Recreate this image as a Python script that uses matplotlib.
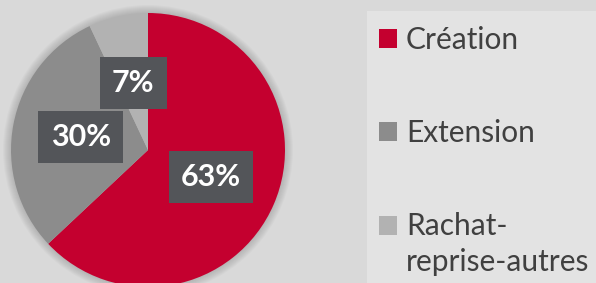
import matplotlib
matplotlib.use('Agg')
import matplotlib.pyplot as plt
from matplotlib.patches import Circle, Rectangle

plt.rcParams['font.family'] = ['Lato', 'DejaVu Sans']

categories = ['Création', 'Extension', 'Rachat-\nreprise-autres']
shares = [63, 30, 7]
colors = ['#c4002f', '#8c8c8c', '#b2b2b2']

fig = plt.figure(figsize=(5.96, 2.83), dpi=100, facecolor='#d9d9d9')
ax = fig.add_axes([0, 0, 1, 1])

cx, cy, r = 148, 133, 137

# soft halo behind the pie
for k in range(8, 0, -1):
    ax.add_patch(Circle((cx, cy), r + k, color='black', alpha=0.018, lw=0, zorder=0))

# legend panel
ax.add_patch(Rectangle((367, 0), 229, 272, color='#e3e3e3', lw=0, zorder=0))

wedges, _, autotexts = ax.pie(
    shares, colors=colors, startangle=90, counterclock=False,
    center=(cx, cy), radius=r, autopct='%d%%', pctdistance=0.5,
    wedgeprops=dict(linewidth=0), frame=True)
ax.set_xlim(0, 596)
ax.set_ylim(0, 283)
ax.set_aspect('equal')
ax.axis('off')

for t in autotexts:
    t.set_color('white')
    t.set_fontsize(22)
    t.set_fontweight('bold')
    t.set_bbox(dict(boxstyle='square,pad=0.4', facecolor='#535559', edgecolor='none'))

leg = ax.legend(wedges, categories, loc='upper left', bbox_to_anchor=(379 / 596, 1 - 26 / 283),
                frameon=False, fontsize=21.5, handlelength=0.6, handleheight=0.6,
                handletextpad=0.3, labelspacing=2.17, borderaxespad=0, borderpad=0)
for txt in leg.get_texts():
    txt.set_color('#404040')
    txt.set_linespacing(1.35)
# square of the two-line entry sits on its first line
h = leg.legend_handles[2]
h.set_y(h.get_y() + 14)

fig.savefig('out.png', dpi=100, facecolor=fig.get_facecolor())
